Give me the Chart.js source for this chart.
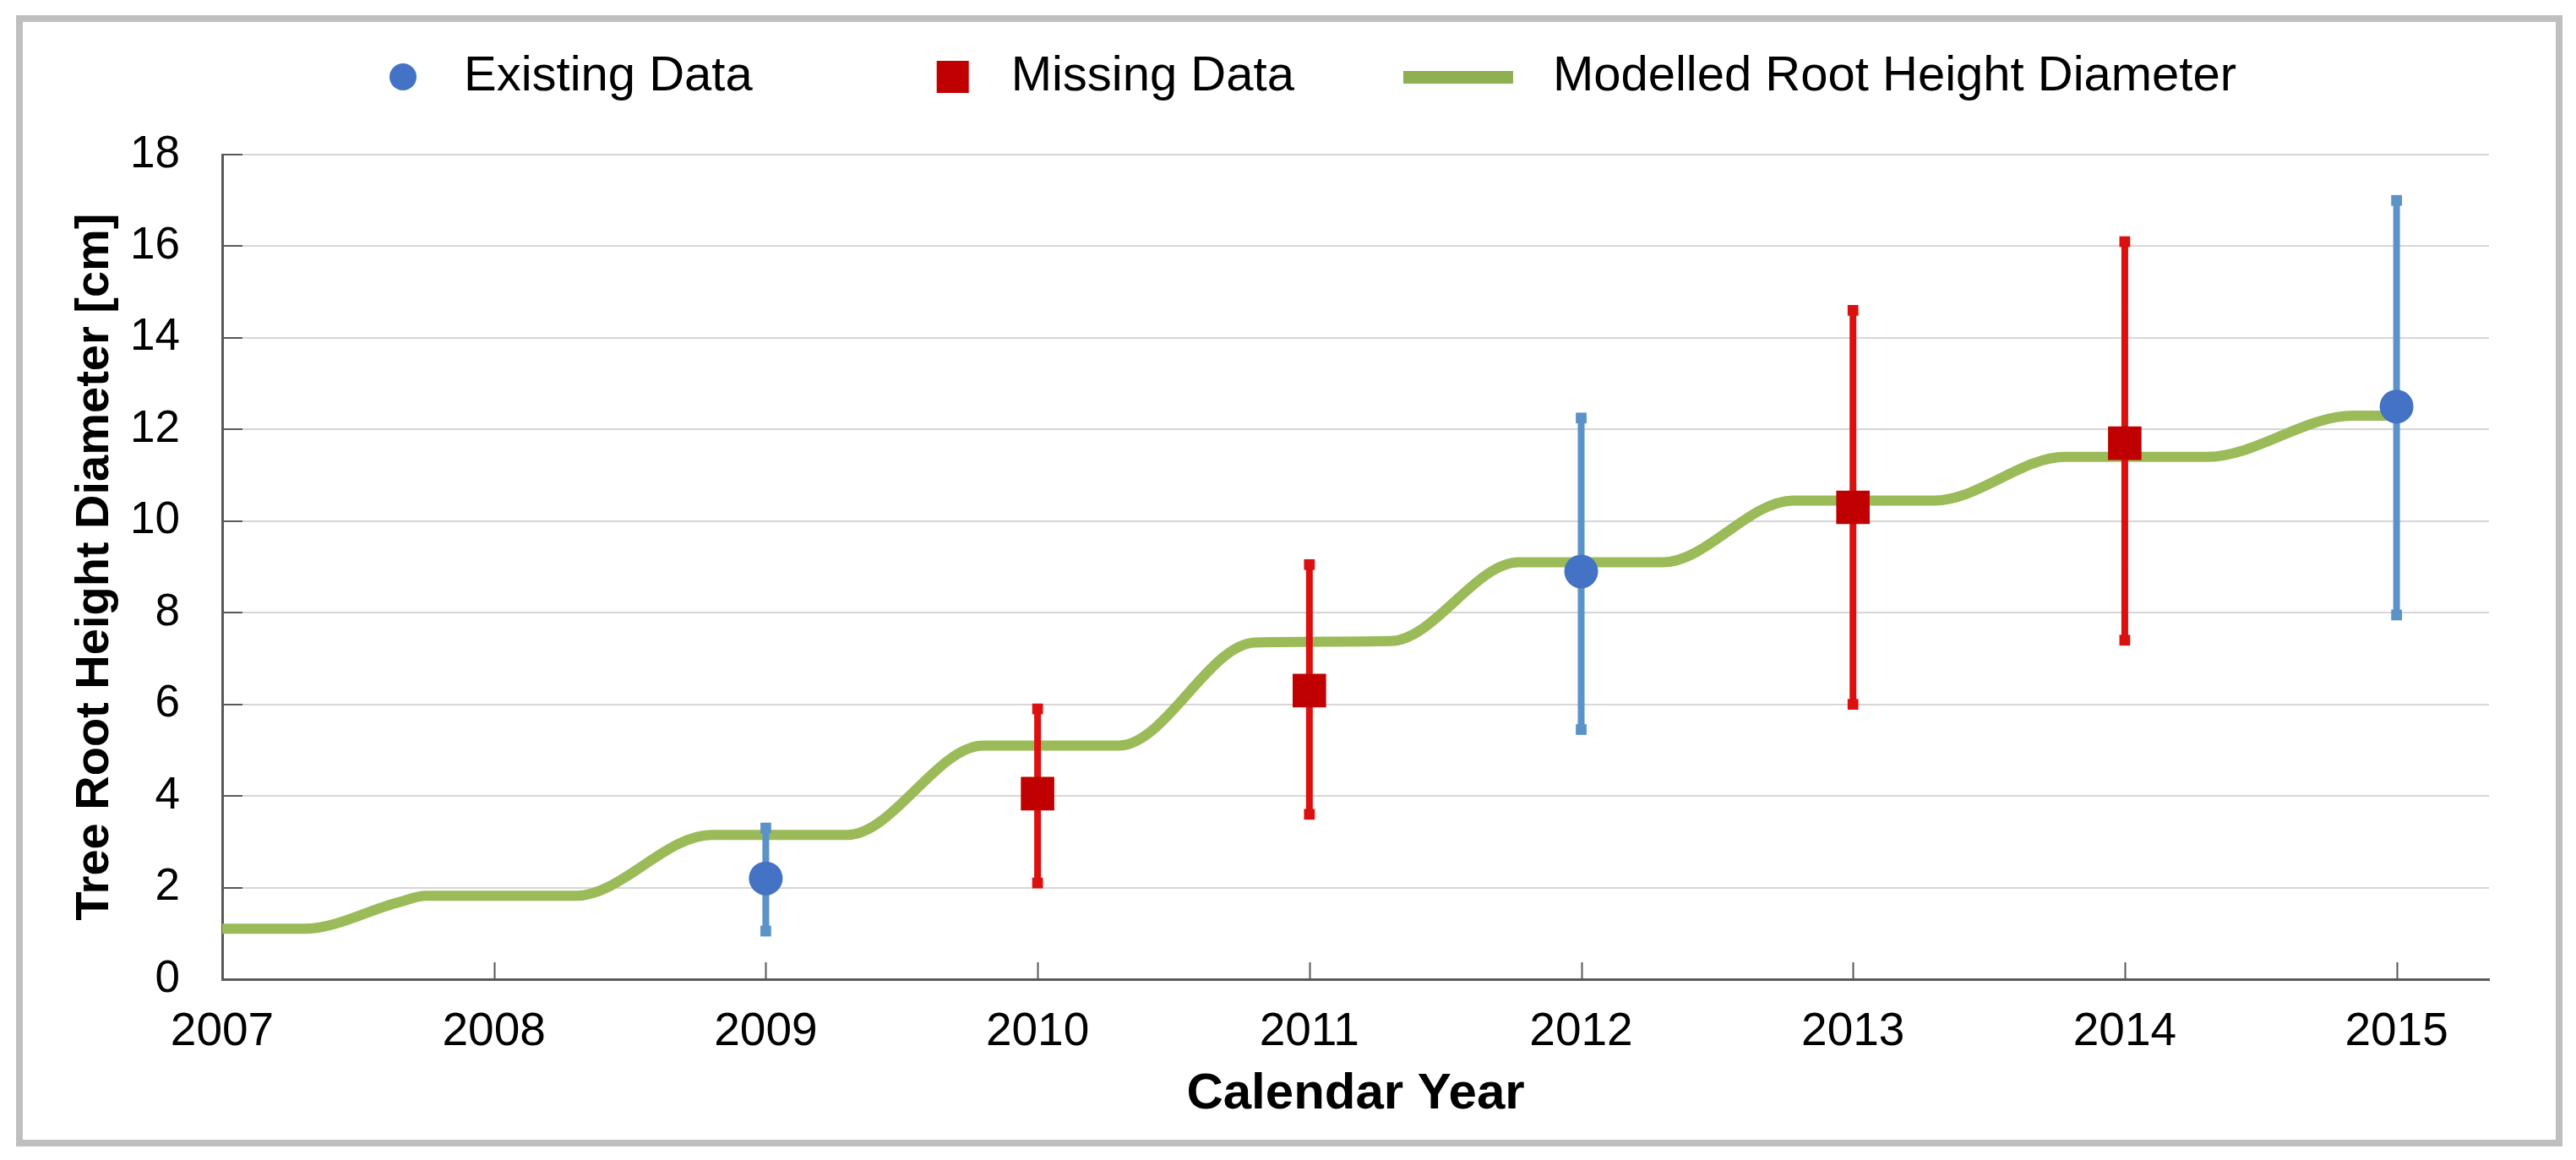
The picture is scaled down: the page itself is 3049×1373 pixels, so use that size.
<!DOCTYPE html>
<html>
<head>
<meta charset="utf-8">
<script src="https://cdn.jsdelivr.net/npm/chart.js@4.4.1/dist/chart.umd.min.js"></script>
<style>
  html, body { margin: 0; padding: 0; background: #fff; overflow: hidden; }
  #wrap { position: absolute; left: -60px; top: 0; width: 3109px; height: 1373px; }
  #frame {
    position: absolute; left: 19px; top: 18px; width: 3014px; height: 1339px;
    box-sizing: border-box; border: 8px solid #bfbfbf; pointer-events: none;
  }
</style>
</head>
<body>
<div id="wrap"><canvas id="chart"></canvas></div>
<div id="frame"></div>
<script>
// Existing data (blue circles) with error range
const existingYears = [2009, 2012, 2015];
const existingValues = [2.2, 8.9, 12.5];
const existingLow = [1.05, 5.45, 7.95];
const existingHigh = [3.3, 12.25, 17.0];

// Missing data (red squares) with error range
const missingYears = [2010, 2011, 2013, 2014];
const missingValues = [4.05, 6.3, 10.3, 11.7];
const missingLow = [2.1, 3.6, 6.0, 7.4];
const missingHigh = [5.9, 9.05, 14.6, 16.1];

// Modelled root height diameter (green step-like curve)
const modelYears = [2007, 2007.3, 2007.65, 2007.75, 2008.3, 2008.8, 2009.3, 2009.8, 2010.3, 2010.8,
  2011.3, 2011.77, 2012.3, 2012.78, 2013.3, 2013.78, 2014.3, 2014.84, 2015];
const modelValues = [1.1, 1.1, 1.68, 1.82, 1.82, 3.15, 3.15, 5.1, 5.1, 7.35,
  7.38, 9.1, 9.1, 10.45, 10.45, 11.4, 11.4, 12.3, 12.3];

const xTickYears = [2007, 2008, 2009, 2010, 2011, 2012, 2013, 2014, 2015];
const yTickValues = [0, 2, 4, 6, 8, 10, 12, 14, 16, 18];

const seriesNames = ["Existing Data", "Missing Data", "Modelled Root Height Diameter"];

const BLUE = "#4472c4", BLUE_BAR = "#5b93c9";
const RED = "#c00000", RED_BAR = "#dd1010";
const GREEN = "#9bbb59";
const FONT = "'Liberation Sans', Arial, sans-serif";

function points(xs, ys) {
  return xs.map((x, i) => ({ x: x, y: ys[i] }));
}
// error bars as broken line segments (null breaks the line)
function errorSegments(xs, lows, highs) {
  const out = [];
  xs.forEach((x, i) => {
    out.push({ x: x, y: lows[i] }, { x: x, y: highs[i] }, { x: x, y: null });
  });
  return out;
}

// legend icons
const ICON_W = 267;
function legendIcon(kind) {
  const c = document.createElement("canvas");
  c.width = ICON_W;
  c.height = 40;
  const g = c.getContext("2d");
  if (kind === "circle") {
    g.fillStyle = BLUE;
    g.beginPath();
    g.arc(224, 20, 16, 0, Math.PI * 2);
    g.fill();
  } else if (kind === "square") {
    g.fillStyle = RED;
    g.fillRect(208, 1, 38, 38);
  } else {
    g.fillStyle = "#8fb050";
    g.fillRect(119, 13, 130, 15);
  }
  return c;
}
const legendIcons = [legendIcon("circle"), legendIcon("square"), legendIcon("line")];

// short inner tick marks on both axes
const innerTicks = {
  id: "innerTicks",
  beforeDatasetsDraw(chart) {
    const { ctx, chartArea, scales } = chart;
    ctx.save();
    ctx.strokeStyle = "#595959";
    ctx.lineWidth = 2;
    ctx.beginPath();
    scales.x.ticks.forEach((t) => {
      const px = Math.round(scales.x.getPixelForValue(t.value)) + 0.5;
      ctx.moveTo(px, chartArea.bottom);
      ctx.lineTo(px, chartArea.bottom - 20);
    });
    scales.y.ticks.forEach((t) => {
      const py = Math.round(scales.y.getPixelForValue(t.value));
      ctx.moveTo(chartArea.left, py);
      ctx.lineTo(chartArea.left + 24, py);
    });
    ctx.stroke();
    ctx.restore();
  },
};

// keep the legend block tall so the plot starts lower
const legendHeight = {
  id: "legendHeight",
  beforeInit(chart) {
    const fit = chart.legend.fit;
    chart.legend.fit = function () {
      fit.call(this);
      this.height = 131;
    };
  },
};

const ctx = document.getElementById("chart").getContext("2d");
new Chart(ctx, {
  type: "line",
  data: {
    datasets: [
      {
        label: seriesNames[0],
        data: points(existingYears, existingValues),
        showLine: false,
        pointStyle: "circle",
        pointRadius: 20,
        pointBackgroundColor: BLUE,
        pointBorderWidth: 0,
        borderColor: BLUE,
      },
      {
        label: seriesNames[1],
        data: points(missingYears, missingValues),
        showLine: false,
        pointStyle: "rect",
        pointRadius: 28,
        pointBackgroundColor: RED,
        pointBorderWidth: 0,
        borderColor: RED,
      },
      {
        label: "existing-err",
        data: errorSegments(existingYears, existingLow, existingHigh),
        borderColor: BLUE_BAR,
        borderWidth: 8,
        pointStyle: "rect",
        pointRadius: 9,
        pointBackgroundColor: BLUE_BAR,
        pointBorderWidth: 0,
        spanGaps: false,
      },
      {
        label: "missing-err",
        data: errorSegments(missingYears, missingLow, missingHigh),
        borderColor: RED_BAR,
        borderWidth: 8,
        pointStyle: "rect",
        pointRadius: 9,
        pointBackgroundColor: RED_BAR,
        pointBorderWidth: 0,
        spanGaps: false,
      },
      {
        label: seriesNames[2],
        data: points(modelYears, modelValues),
        borderColor: GREEN,
        borderWidth: 12,
        borderJoinStyle: "round",
        pointRadius: 0,
        cubicInterpolationMode: "monotone",
      },
    ],
  },
  options: {
    responsive: true,
    maintainAspectRatio: false,
    animation: false,
    events: [],
    layout: { padding: { top: 52, left: 14, right: 103, bottom: 0 } },
    scales: {
      x: {
        type: "linear",
        min: 2007,
        max: 2015.34,
        afterBuildTicks: (scale) => {
          scale.ticks = xTickYears.map((v) => ({ value: v }));
        },
        afterFit: (scale) => {
          scale.height = 214;
        },
        grid: { display: false, drawTicks: false },
        border: { display: true, color: "#595959", width: 3 },
        ticks: {
          padding: 30,
          color: "#000",
          font: { family: FONT, size: 55 },
          callback: (v) => String(v),
        },
        title: {
          display: true,
          text: "Calendar Year",
          color: "#000",
          font: { family: FONT, size: 60, weight: "bold", lineHeight: 1 },
          padding: { top: 0, bottom: 48 },
        },
      },
      y: {
        min: 0,
        max: 18,
        afterBuildTicks: (scale) => {
          scale.ticks = yTickValues.map((v) => ({ value: v }));
        },
        afterFit: (scale) => {
          scale.width = 309;
        },
        grid: { color: "#d6d6d6", lineWidth: 2, drawTicks: false },
        border: { display: true, color: "#595959", width: 3 },
        ticks: {
          padding: 50,
          color: "#000",
          font: { family: FONT, size: 53 },
        },
        title: {
          display: true,
          text: "Tree Root Height Diameter [cm]",
          color: "#000",
          font: { family: FONT, size: 56, weight: "bold", lineHeight: 1 },
          padding: { top: 131, bottom: 0 },
        },
      },
    },
    plugins: {
      tooltip: { enabled: false },
      legend: {
        position: "top",
        labels: {
          usePointStyle: true,
          pointStyleWidth: ICON_W,
          padding: 10,
          color: "#000",
          font: { family: FONT, size: 58 },
          generateLabels: () =>
            seriesNames.map((name, i) => ({
              text: name,
              pointStyle: legendIcons[i],
              fillStyle: "#fff",
              strokeStyle: "#fff",
              lineWidth: 0,
              hidden: false,
              datasetIndex: i === 2 ? 4 : i,
            })),
        },
      },
    },
  },
  plugins: [innerTicks, legendHeight],
});
</script>
</body>
</html>
